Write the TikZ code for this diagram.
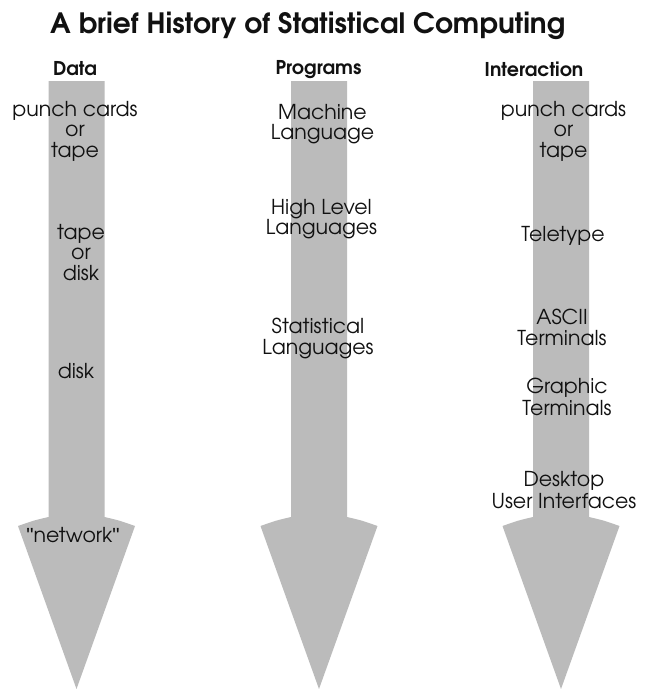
\documentclass[tikz,border=0pt]{standalone}
\usepackage{fontspec}
\setmainfont{TeX Gyre Adventor}
\newfontfamily\quotefont{Liberation Sans}
\definecolor{arrowgray}{HTML}{BBBBBB}
\definecolor{inkc}{HTML}{111111}
\newcommand{\sq}{{\quotefont\char"22}}
\begin{document}
\begin{tikzpicture}[x=1pt,y=-1pt,
  bigarrow/.pic={\fill[arrowgray] (-28,81) -- (28,81) -- (28,517) .. controls (43,520.5) .. (58.5,526) -- (0,689) -- (-58.5,526) .. controls (-43,520.5) .. (-28,517) -- cycle;},
  txt/.style={anchor=base, inner sep=0pt, text=inkc, font=\fontsize{20.5}{22}\selectfont},
  head/.style={anchor=base, inner sep=0pt, text=inkc, font=\fontsize{19}{22}\selectfont\bfseries},
  ttl/.style={anchor=base west, inner sep=0pt, text=inkc, font=\fontsize{28}{32}\selectfont\bfseries}]
\useasboundingbox (0,0) rectangle (651,689);
\fill[white] (0,0) rectangle (651,689);
\pic (arrowdata) at (76.5,0) {bigarrow};
\pic (arrowprog) at (319,0) {bigarrow};
\pic (arrowint) at (561,0) {bigarrow};
\node[ttl] (title) at (50,33) {A brief History of Statistical Computing};
\node[head] (hdata) at (75,75) {Data};
\node[head] (hprog) at (318.5,74) {Programs};
\node[head] (hint) at (534,76) {Interaction};
% Data
\node[txt] (d1a) at (75,116) {punch cards};
\node[txt] (d1b) at (75,136.5) {or};
\node[txt] (d1c) at (75,157) {tape};
\node[txt] (d2a) at (81,239) {tape};
\node[txt] (d2b) at (81,259.5) {or};
\node[txt] (d2c) at (81,280) {disk};
\node[txt] (d3) at (76,378) {disk};
\node[txt] (d4) at (73,542.5) {\sq network\sq};
% Programs
\node[txt] (p1a) at (322.5,119) {Machine};
\node[txt] (p1b) at (322.5,139.5) {Language};
\node[txt] (p2a) at (321.5,214) {High Level};
\node[txt] (p2b) at (321.5,234) {Languages};
\node[txt] (p3a) at (318,333) {Statistical};
\node[txt] (p3b) at (318,354) {Languages};
% Interaction
\node[txt] (i1a) at (563.5,116) {punch cards};
\node[txt] (i1b) at (563.5,136.5) {or};
\node[txt] (i1c) at (563.5,157) {tape};
\node[txt] (i2) at (563,241) {Teletype};
\node[txt] (i3a) at (562,324) {ASCII};
\node[txt] (i3b) at (562,345) {Terminals};
\node[txt] (i4a) at (567,393) {Graphic};
\node[txt] (i4b) at (567,415) {Terminals};
\node[txt] (i5a) at (564,486.5) {Desktop};
\node[txt] (i5b) at (564,508) {User Interfaces};
\end{tikzpicture}
\end{document}
